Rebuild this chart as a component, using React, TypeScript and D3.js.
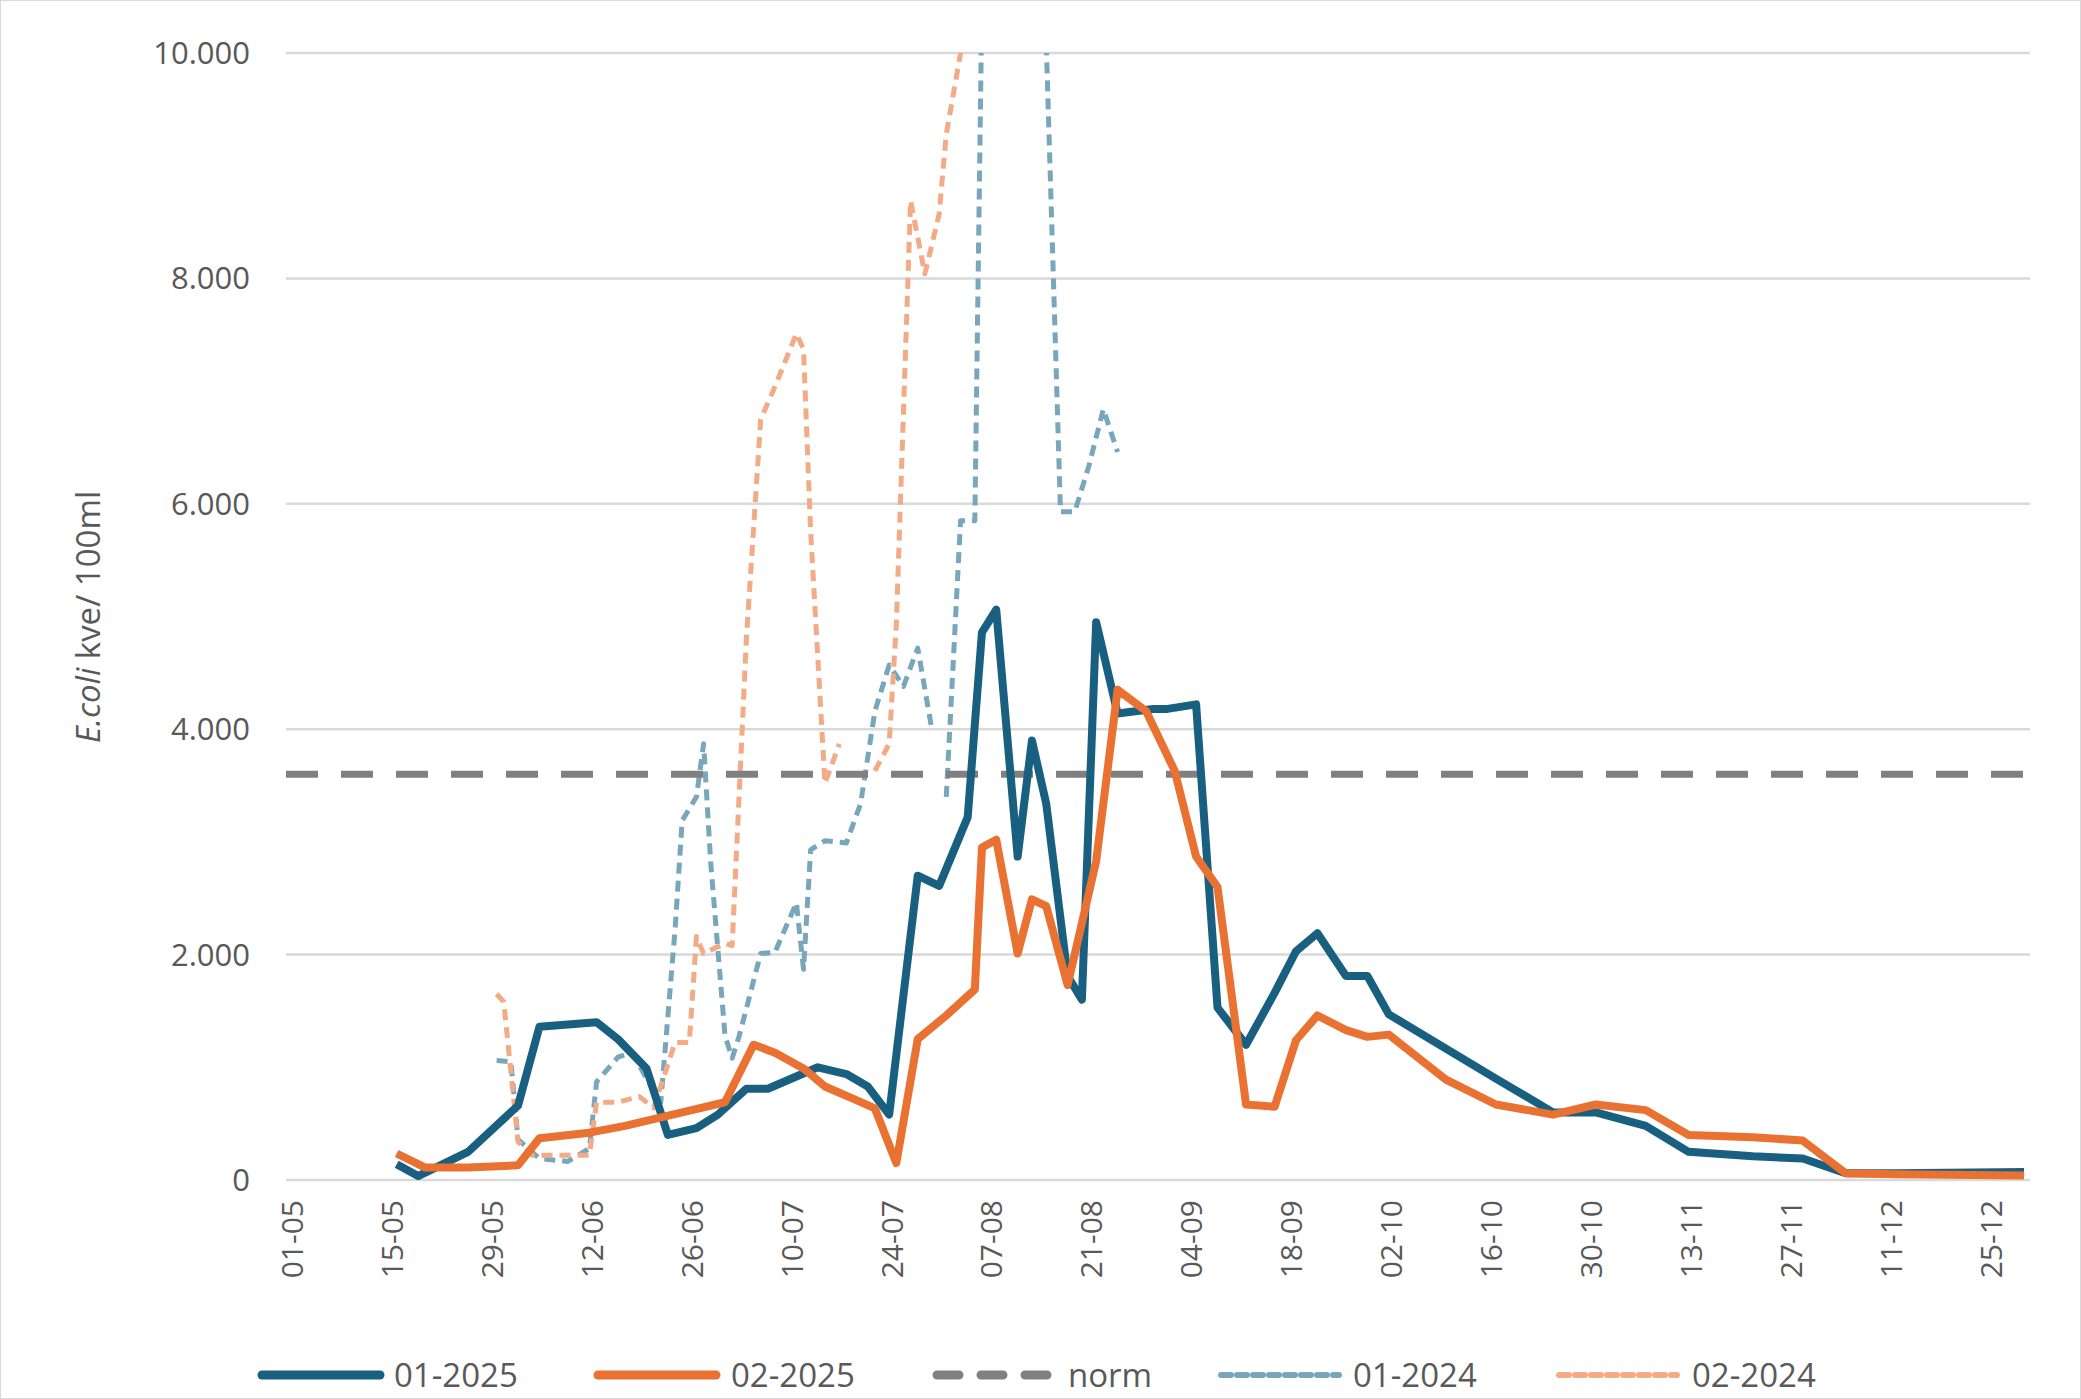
import React from "react";
import * as d3 from "d3";

const W = 2081, H = 1399;
const tickDates = ["01-05","15-05","29-05","12-06","26-06","10-07","24-07","07-08","21-08","04-09","18-09","02-10","16-10","30-10","13-11","27-11","11-12","25-12"];
const yTicks = [0, 2000, 4000, 6000, 8000, 10000];
const norm = 3600;

const s01_2025: [string, number][] = [["15-05",140],["18-05",35],["25-05",250],["01-06",660],["04-06",1360],["12-06",1400],["15-06",1250],["19-06",990],["22-06",400],["26-06",460],["29-06",580],["03-07",810],["06-07",810],["13-07",1000],["17-07",940],["20-07",830],["23-07",580],["27-07",2700],["30-07",2610],["03-08",3220],["05-08",4860],["07-08",5060],["10-08",2870],["12-08",3900],["14-08",3340],["17-08",1810],["19-08",1600],["21-08",4950],["24-08",4140],["29-08",4180],["31-08",4180],["04-09",4220],["07-09",1530],["11-09",1200],["15-09",1660],["18-09",2030],["21-09",2190],["25-09",1810],["28-09",1810],["01-10",1470],["16-10",900],["24-10",600],["30-10",600],["06-11",480],["12-11",250],["21-11",210],["28-11",190],["04-12",60],["11-12",60],["29-12",70]];
const s02_2025: [string, number][] = [["15-05",235],["19-05",110],["25-05",110],["01-06",130],["04-06",370],["11-06",420],["16-06",480],["24-06",600],["30-06",690],["04-07",1200],["07-07",1130],["11-07",990],["14-07",830],["18-07",720],["21-07",635],["24-07",150],["27-07",1250],["31-07",1460],["04-08",1690],["05-08",2950],["07-08",3020],["10-08",2010],["12-08",2490],["14-08",2430],["17-08",1730],["21-08",2830],["24-08",4350],["28-08",4160],["01-09",3630],["04-09",2870],["07-09",2600],["11-09",670],["15-09",650],["18-09",1240],["21-09",1460],["25-09",1330],["28-09",1270],["01-10",1290],["09-10",890],["16-10",670],["24-10",580],["30-10",670],["06-11",620],["12-11",400],["21-11",380],["28-11",350],["04-12",60],["11-12",50],["29-12",40]];
const s01_2024: [string, number | null][] = [["29-05",1060],["31-05",1050],["01-06",360],["04-06",190],["08-06",165],["11-06",280],["12-06",870],["15-06",1090],["17-06",1130],["19-06",900],["21-06",690],["23-06",2220],["24-06",3190],["26-06",3400],["27-06",3870],["28-06",2810],["30-06",1280],["01-07",1080],["02-07",1280],["05-07",2010],["07-07",2020],["10-07",2460],["11-07",1870],["12-07",2930],["14-07",3010],["17-07",2990],["19-07",3340],["21-07",4160],["23-07",4570],["25-07",4380],["27-07",4720],["29-07",3990],["30-07",null],["31-07",3400],["02-08",5850],["04-08",5850],["05-08",10500],["08-08",14000],["12-08",13000],["14-08",10100],["16-08",5930],["18-08",5930],["20-08",6340],["22-08",6840],["24-08",6460]];
const s02_2024: [string, number | null][] = [["29-05",1650],["30-05",1580],["01-06",340],["03-06",220],["07-06",220],["11-06",220],["12-06",690],["14-06",690],["15-06",690],["18-06",740],["20-06",640],["23-06",1220],["25-06",1220],["26-06",2160],["27-06",2010],["30-06",2100],["01-07",2080],["03-07",4810],["05-07",6750],["07-07",7040],["10-07",7510],["11-07",7370],["12-07",5750],["14-07",3520],["15-07",3690],["16-07",3870],["18-07",null],["21-07",3630],["23-07",3870],["24-07",4930],["26-07",8690],["28-07",8040],["30-07",8570],["31-07",9280],["02-08",10000],["04-08",11500]];

const parse = (s: string) => { const [d, m] = s.split("-").map(Number); return new Date(2025, m - 1, d, 16); };
const fmt = (v: number) => d3.format(",")(v).replace(/,/g, ".");

export default function App() {
  const L = 292, R = 2030, T = 53, B = 1180;
  const x = d3.scaleTime().domain([new Date(2025, 4, 1), new Date(2025, 11, 30, 12)]).range([L, R]);
  const y = d3.scaleLinear().domain([0, 10000]).range([B, T]);
  const line = d3.line<[string, number | null]>().defined(d => d[1] !== null).x(d => x(parse(d[0]))).y(d => y(d[1] as number));
  const C1 = "#195f80", C2 = "#e97132", G = "#808080", C3 = "#78a6bb", C4 = "#f3aa86";
  const font = "'Open Sans', 'Liberation Sans', Arial, sans-serif";
  const legend = [
    { lx: 262, tx: 394, label: "01-2025", c: C1, w: 9, dash: "" },
    { lx: 598, tx: 731, label: "02-2025", c: C2, w: 9, dash: "" },
    { lx: 937, tx: 1068, label: "norm", c: G, w: 9, dash: "22 22" },
    { lx: 1221, tx: 1353, label: "01-2024", c: C3, w: 6, dash: "10 6" },
    { lx: 1559, tx: 1692, label: "02-2024", c: C4, w: 6, dash: "10 6" },
  ];
  const ax = (s: string) => x(new Date(2025, +s.split("-")[1] - 1, +s.split("-")[0]));
  return (
    <svg width={W} height={H} style={{ position: "absolute", left: 0, top: 0, fontFamily: font }}>
      <rect x={0.5} y={0.5} width={W - 1} height={H - 1} fill="#fff" stroke="#d9d9d9" />
      <defs><clipPath id="pc"><rect x={L - 10} y={T} width={R - L + 20} height={B - T + 20} /></clipPath></defs>
      {yTicks.map(v => (
        <g key={v}>
          <line x1={286} x2={R} y1={y(v)} y2={y(v)} stroke="#d9d9d9" strokeWidth={2.5} />
          <text x={250} y={y(v) + 11} textAnchor="end" fontSize={31} fill="#595959">{fmt(v)}</text>
        </g>
      ))}
      {tickDates.map(t => (
        <text key={t} transform={`translate(${ax(t) + 11},${1200}) rotate(-90)`} textAnchor="end" fontSize={30} fill="#595959">{t}</text>
      ))}
      <text transform={`translate(100,617) rotate(-90)`} textAnchor="middle" fontSize={33} fill="#595959"><tspan fontStyle="italic">E.coli</tspan> kve/ 100ml</text>
      <g clipPath="url(#pc)" fill="none" strokeLinejoin="round">
        <path d={line(s01_2024 as any) || ""} stroke={C3} strokeWidth={5} strokeDasharray="11 7" />
        <path d={line(s02_2024 as any) || ""} stroke={C4} strokeWidth={5} strokeDasharray="11 7" />
        <line x1={286} x2={R} y1={y(norm)} y2={y(norm)} stroke={G} strokeWidth={7} strokeDasharray="32 23" />
        <path d={line(s01_2025 as any) || ""} stroke={C1} strokeWidth={8} />
        <path d={line(s02_2025 as any) || ""} stroke={C2} strokeWidth={8} />
      </g>
      {legend.map(l => (
        <g key={l.label}>
          <line x1={l.lx} x2={l.lx + 118} y1={1375} y2={1375} stroke={l.c} strokeWidth={l.w} strokeDasharray={l.dash || undefined} strokeLinecap="round" />
          <text x={l.tx} y={1387} fontSize={33} fill="#595959">{l.label}</text>
        </g>
      ))}
    </svg>
  );
}
